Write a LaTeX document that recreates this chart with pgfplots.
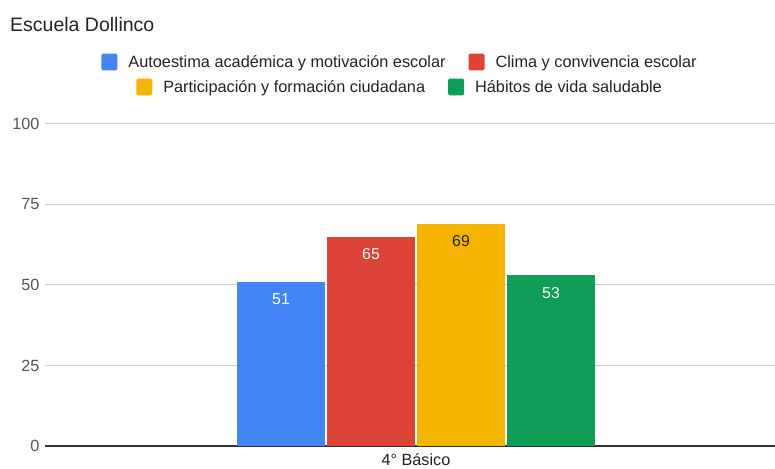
\documentclass[border=0pt]{standalone}
\usepackage{fontspec}
\setmainfont{Liberation Sans}
\usepackage{pgfplots}
\pgfplotsset{compat=1.18}
\definecolor{cblue}{HTML}{4285F4}
\definecolor{cred}{HTML}{DB4437}
\definecolor{cyellow}{HTML}{F4B400}
\definecolor{cgreen}{HTML}{0F9D58}
\definecolor{gridgray}{HTML}{CCCCCC}
\definecolor{axisdark}{HTML}{333333}
\definecolor{ticktext}{HTML}{555555}
\definecolor{maintext}{HTML}{222222}
\pgfplotsset{
  sqlegend/.style={
    legend image code/.code={\fill[##1, rounded corners=1.5pt] (0pt,-2.8pt) rectangle (16pt,14pt);},
    legend style={draw=none, fill=none, inner sep=0pt, outer sep=0pt,
      font=\fontsize{16.3}{19}\selectfont, text=maintext,
      nodes={inner sep=0pt, anchor=base west},
      legend columns=-1,
      /tikz/every odd column/.append style={column sep=11pt},
      /tikz/every even column/.append style={column sep=23pt}},
  }
}
\begin{document}
\begin{tikzpicture}[x=1pt,y=1pt]
\useasboundingbox (0,0) rectangle (775,468);
\begin{axis}[
  at={(45pt,22pt)}, anchor=south west,
  scale only axis, width=730pt, height=322pt,
  xmin=-371, xmax=359, ymin=0, ymax=100,
  ytick={0,25,50,75,100},
  xtick={0}, xticklabels={4° Básico},
  ymajorgrids, grid style={draw=gridgray, line width=1pt},
  major tick length=0pt,
  axis line style={draw=none},
  extra y ticks={0}, extra y tick labels={},
  extra y tick style={grid style={draw=axisdark, line width=1.3pt}},
  /pgf/number format/assume math mode=true,
  yticklabel style={text=ticktext, font=\fontsize{16.2}{19}\selectfont, xshift=-2pt},
  xticklabel style={text=maintext, font=\fontsize{16.2}{19}\selectfont, yshift=-4.5pt},
  ybar, bar width=88,
  nodes near coords,
  nodes near coords align={anchor=north},
  every node near coord/.append style={font=\fontsize{15.8}{18}\selectfont, yshift=-8.5pt},
  sqlegend,
  legend style={at={(rel axis cs:0.485,1.1925)}, anchor=center},
]
\addplot[fill=cblue, draw=none, bar shift=-135, every node near coord/.append style={text=white}] coordinates {(0,51)};
\addplot[fill=cred, draw=none, bar shift=-45, every node near coord/.append style={text=white}] coordinates {(0,65)};
\addplot[fill=cyellow, draw=none, bar shift=45, every node near coord/.append style={text=maintext}] coordinates {(0,69)};
\addplot[fill=cgreen, draw=none, bar shift=135, every node near coord/.append style={text=white}] coordinates {(0,53)};
\legend{Autoestima académica y motivación escolar, Clima y convivencia escolar}
\end{axis}
\begin{axis}[
  at={(45pt,22pt)}, anchor=south west,
  scale only axis, width=730pt, height=322pt,
  xmin=-371, xmax=359, ymin=0, ymax=100,
  hide axis,
  sqlegend,
  legend style={at={(rel axis cs:0.485,1.115)}, anchor=center},
]
\addlegendimage{fill=cyellow, draw=none}
\addlegendentry{Participación y formación ciudadana}
\addlegendimage{fill=cgreen, draw=none}
\addlegendentry{Hábitos de vida saludable}
\end{axis}
\node[anchor=base west, font=\fontsize{19.5}{22}\selectfont, text=maintext, inner sep=0pt] at (10,436.5) {Escuela Dollinco};
\end{tikzpicture}
\end{document}
